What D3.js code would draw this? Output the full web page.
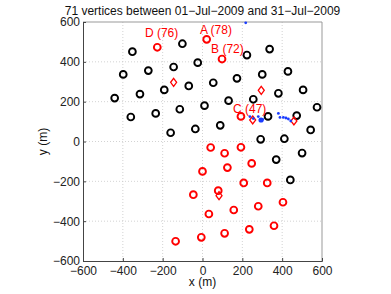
<!DOCTYPE html>
<html>
<head>
<meta charset="utf-8">
<script src="https://cdn.jsdelivr.net/npm/d3@7"></script>
<style>
body { margin: 0; background: #fff; }
text { font-family: "Liberation Sans", Arial, sans-serif; }
</style>
</head>
<body>
<svg id="viz"></svg>
<script>
// vertex positions (metres)
var blackX = [-101, -352, -145, -24, -398, -272, -69, -192, -314, -441, 10, -114, -235, -360, -36, -160,
	54, 223, 337, 173, 300, 429, 381, 505, 131, 255, 575, 329, 473, 89, 543, 292, 411, 500, 370, 441]
var blackY = [491, 451, 374, 396, 337, 356, 279, 259, 238, 218, 180, 162, 141, 123, 63, 44,
	295, 434, 464, 317, 337, 352, 242, 259, 205, 212, 172, 126, 130, 81, 58, 11, 14, -58, -91, -193]

var redX = [-227, 21, 98, 193, 41, 111, 193, 247, 0, 125, 207, 325, 79, -46, 32, 157, 280, 404, -6, 111, 235, 359, -135]
var redY = [473, 513, 414, 126, -30, -59, -29, -110, -150, -131, -208, -208, -247, -267, -364, -344, -325, -305, -481, -461, -441, -423, -501]

var diamondX = [-145, 295, 252, 459, 83]
var diamondY = [297, 257, 108, 103, -272]

var blueX = [217, 238, 255, 280, 302, 381, 389, 406, 419, 431, 443]
var blueY = [596, 125, 115, 125, 111, 141, 121, 121, 118, 113, 103]
var bigBlueX = [294]
var bigBlueY = [108]

var labelText = ['D (76)', 'A (78)', 'B (72)', 'C (47)']
var labelX = [-289, -13, 43, 153]
var labelY = [526, 540, 446, 145]

var ticks = [-600, -400, -200, 0, 200, 400, 600]

var width = 391
var height = 294
var padL = 83, padR = 322, padT = 22, padB = 261

var svg = d3.select("#viz")
	.attr("width", width)
	.attr("height", height)

var scaleX = d3.scaleLinear().domain([-600, 600]).range([padL, padR])
var scaleY = d3.scaleLinear().domain([-600, 600]).range([padB, padT])

function fmt(v) { return String(v).replace('-', '\u2212') }

// grid
svg.append("g").selectAll("line")
	.data(ticks.slice(1, -1))
	.enter().append("line")
	.attr("x1", d => scaleX(d)).attr("x2", d => scaleX(d))
	.attr("y1", padT).attr("y2", padB)
	.attr("stroke", "#c8c8c8").attr("stroke-width", 0.8)
	.attr("stroke-dasharray", "1,2")

svg.append("g").selectAll("line")
	.data(ticks.slice(1, -1))
	.enter().append("line")
	.attr("y1", d => scaleY(d)).attr("y2", d => scaleY(d))
	.attr("x1", padL).attr("x2", padR)
	.attr("stroke", "#c8c8c8").attr("stroke-width", 0.8)
	.attr("stroke-dasharray", "1,2")

// box
svg.append("line").attr("x1", padL).attr("x2", padR).attr("y1", padT).attr("y2", padT)
	.attr("stroke", "#999").attr("stroke-width", 1)
svg.append("line").attr("x1", padR).attr("x2", padR).attr("y1", padT).attr("y2", padB)
	.attr("stroke", "#999").attr("stroke-width", 1)

// axes, ticks inward
var xAxis = d3.axisBottom(scaleX).tickValues(ticks).tickSize(-3).tickPadding(5).tickFormat(fmt)
var yAxis = d3.axisLeft(scaleY).tickValues(ticks).tickSize(-3).tickPadding(3).tickFormat(fmt)

var gx = svg.append("g").attr("transform", "translate(0," + padB + ")").call(xAxis)
var gy = svg.append("g").attr("transform", "translate(" + padL + ",0)").call(yAxis)

;[gx, gy].forEach(function(g) {
	g.select(".domain").attr("stroke", "#444")
	g.selectAll(".tick line").attr("stroke", "#444")
	g.selectAll(".tick text").attr("font-size", 12).attr("fill", "#222")
		.attr("font-family", '"Liberation Sans", Arial, sans-serif')
})

// points
svg.append("g").selectAll("circle")
	.data(blackX.map((x, i) => [x, blackY[i]]))
	.enter().append("circle")
	.attr("cx", d => scaleX(d[0])).attr("cy", d => scaleY(d[1]))
	.attr("r", 3.4).attr("fill", "none")
	.attr("stroke", "#000").attr("stroke-width", 1.9)

svg.append("g").selectAll("circle")
	.data(redX.map((x, i) => [x, redY[i]]))
	.enter().append("circle")
	.attr("cx", d => scaleX(d[0])).attr("cy", d => scaleY(d[1]))
	.attr("r", 3.4).attr("fill", "none")
	.attr("stroke", "#f00").attr("stroke-width", 1.9)

svg.append("g").selectAll("path")
	.data(diamondX.map((x, i) => [x, diamondY[i]]))
	.enter().append("path")
	.attr("d", d => {
		let cx = scaleX(d[0]), cy = scaleY(d[1])
		return "M" + cx + "," + (cy - 4) + "L" + (cx + 3) + "," + cy + "L" + cx + "," + (cy + 4) + "L" + (cx - 3) + "," + cy + "Z"
	})
	.attr("fill", "none").attr("stroke", "#f00").attr("stroke-width", 1.3)

svg.append("g").selectAll("circle")
	.data(blueX.map((x, i) => [x, blueY[i]]))
	.enter().append("circle")
	.attr("cx", d => scaleX(d[0])).attr("cy", d => scaleY(d[1]))
	.attr("r", 1.4).attr("fill", "#1a3cff")

svg.append("g").selectAll("circle")
	.data(bigBlueX.map((x, i) => [x, bigBlueY[i]]))
	.enter().append("circle")
	.attr("cx", d => scaleX(d[0])).attr("cy", d => scaleY(d[1]))
	.attr("r", 2.6).attr("fill", "#1a3cff")

// labels
svg.append("g").selectAll("text")
	.data(labelText)
	.enter().append("text")
	.attr("x", (d, i) => scaleX(labelX[i]))
	.attr("y", (d, i) => scaleY(labelY[i]))
	.attr("font-size", 12).attr("fill", "#f00")
	.text(d => d)

// titles
svg.append("text").attr("x", (padL + padR) / 2).attr("y", 15)
	.attr("text-anchor", "middle").attr("font-size", 12).attr("fill", "#111")
	.text("71 vertices between 01\u2212Jul\u22122009 and 31\u2212Jul\u22122009")

svg.append("text").attr("x", (padL + padR) / 2).attr("y", 286)
	.attr("text-anchor", "middle").attr("font-size", 12).attr("fill", "#111")
	.text("x (m)")

svg.append("text").attr("transform", "translate(47," + ((padT + padB) / 2) + ") rotate(-90)")
	.attr("text-anchor", "middle").attr("font-size", 12).attr("fill", "#111")
	.text("y (m)")
</script>
</body>
</html>
